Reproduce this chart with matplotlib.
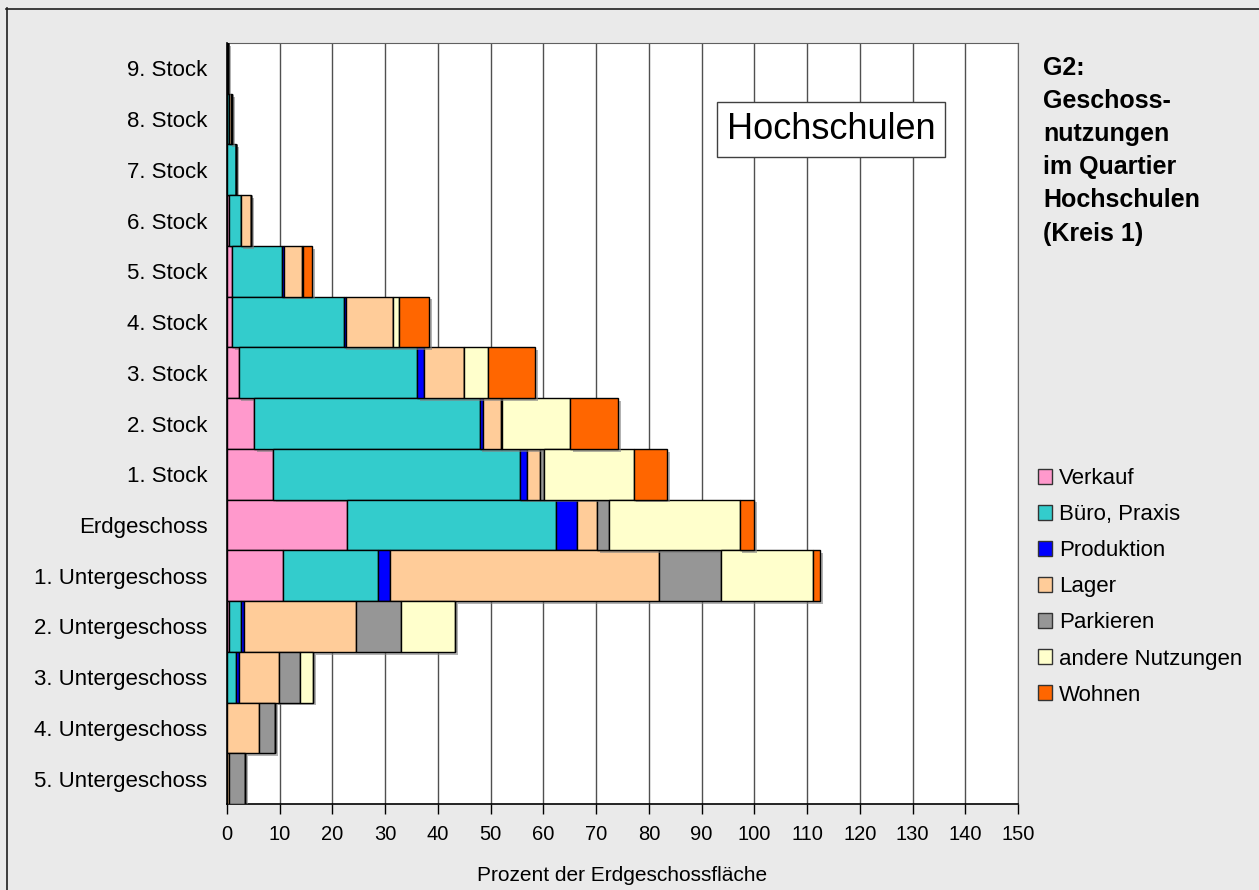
import numpy as np
import matplotlib
matplotlib.use('Agg')
import matplotlib.pyplot as plt
from matplotlib.patches import Patch
import matplotlib.patheffects as pe

plt.rcParams['font.family'] = ['Liberation Sans', 'DejaVu Sans']

floors = ['9. Stock', '8. Stock', '7. Stock', '6. Stock', '5. Stock', '4. Stock',
          '3. Stock', '2. Stock', '1. Stock', 'Erdgeschoss', '1. Untergeschoss',
          '2. Untergeschoss', '3. Untergeschoss', '4. Untergeschoss', '5. Untergeschoss']

uses = ['Verkauf', 'Büro, Praxis', 'Produktion', 'Lager', 'Parkieren',
        'andere Nutzungen', 'Wohnen']

verkauf = [0, 0, 0, 0.4, 0.9, 1.0, 2.2, 5.1, 8.7, 22.8, 10.6, 0.3, 0, 0, 0]
buero = [0.1, 0.4, 1.8, 2.2, 9.6, 21.1, 33.8, 42.8, 46.8, 39.5, 18.0, 2.4, 1.7, 0, 0]
produktion = [0, 0, 0, 0, 0.4, 0.4, 1.4, 0.6, 1.3, 4.1, 2.3, 0.5, 0.5, 0, 0]
lager = [0, 0.3, 0, 1.9, 3.3, 8.9, 7.6, 3.5, 2.6, 3.8, 51.0, 21.3, 7.6, 6.1, 0.3]
parkieren = [0.1, 0.2, 0, 0, 0.3, 0, 0, 0.2, 0.7, 2.2, 11.8, 8.5, 4.0, 3.0, 3.2]
andere = [0, 0, 0, 0, 0, 1.3, 4.4, 12.8, 17.0, 24.8, 17.5, 10.2, 2.6, 0, 0]
wohnen = [0, 0, 0, 0, 1.7, 5.7, 9.1, 9.2, 6.3, 2.8, 1.2, 0, 0, 0, 0]

series = [verkauf, buero, produktion, lager, parkieren, andere, wohnen]
colors = ['#FF99CC', '#33CCCC', '#0000FF', '#FFCC99', '#969696', '#FFFFCC', '#FF6600']

W, H = 1259, 890
fig = plt.figure(figsize=(W / 100, H / 100), dpi=100, facecolor='#EAEAEA')
ax = fig.add_axes([227 / W, 1 - 804 / H, (1018 - 227) / W, (804 - 43) / H])
ax.set_facecolor('white')

y = np.arange(len(floors))
left = np.zeros(len(floors))
shadow = [pe.SimplePatchShadow(offset=(2, -2), shadow_rgbFace='#808080', alpha=0.6), pe.Normal()]
for vals, c, lab in zip(series, colors, uses):
    vals = np.array(vals)
    bars = ax.barh(y, vals, left=left, height=1.0, color=c, edgecolor='black',
                   linewidth=1.0, label=lab, zorder=3)
    for b in bars:
        b.set_path_effects(shadow)
    left += vals

ax.set_ylim(len(floors) - 0.5, -0.5)
ax.set_yticks(y)
ax.set_yticklabels(floors, fontsize=16)
ax.tick_params(axis='y', length=0, pad=14)

ax.set_xlim(0, 150)
ax.set_xticks(np.arange(0, 151, 10))
ax.tick_params(axis='x', labelsize=14.5, direction='out', length=7, width=1, pad=8)
ax.set_xlabel('Prozent der Erdgeschossfläche', fontsize=15, labelpad=16)
ax.grid(axis='x', color='#505050', linewidth=1, zorder=1)

for s in ['top', 'right']:
    ax.spines[s].set_color('#606060')
for s in ['left', 'bottom']:
    ax.spines[s].set_color('black')
    ax.spines[s].set_linewidth(1.2)

ax.text(0.7636, 0.8863, 'Hochschulen', transform=ax.transAxes, fontsize=26,
        ha='center', va='center', zorder=5,
        bbox=dict(boxstyle='square,pad=0.27', facecolor='white', edgecolor='#404040', linewidth=1))

fig.text(1043 / W, 1 - 56 / H, 'G2:\nGeschoss-\nnutzungen\nim Quartier\nHochschulen\n(Kreis 1)',
         fontsize=18, fontweight='bold', ha='left', va='top', linespacing=1.48)

handles = [Patch(facecolor=c, edgecolor='#333333', label=l) for c, l in zip(colors, uses)]
fig.legend(handles=handles, loc='upper left', bbox_to_anchor=(1038 / W, 1 - 468 / H),
           frameon=False, fontsize=16, handlelength=0.65, handleheight=0.65,
           handletextpad=0.3, labelspacing=0.68, borderpad=0, borderaxespad=0)

fig.add_artist(plt.Line2D([6.5 / W, 6.5 / W], [0, 1 - 8 / H], color='#202020', lw=1.2))
fig.add_artist(plt.Line2D([6 / W, 1], [1 - 8.5 / H, 1 - 8.5 / H], color='#202020', lw=1.2))

fig.savefig('out.png', dpi=100, facecolor=fig.get_facecolor())
